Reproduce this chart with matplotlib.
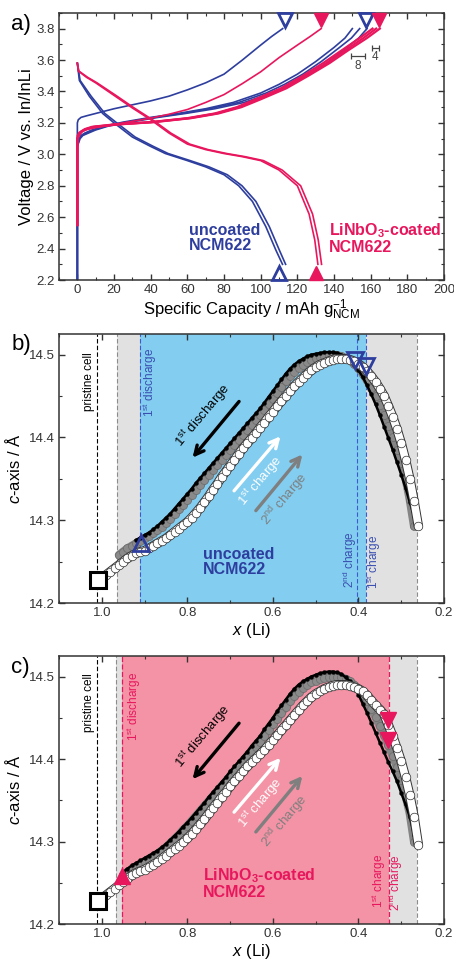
import numpy as np
import matplotlib
matplotlib.use("Agg")
import matplotlib.pyplot as plt
from matplotlib.ticker import MultipleLocator, FormatStrFormatter

plt.rcParams['font.family'] = ['Liberation Sans', 'DejaVu Sans']
plt.rcParams['mathtext.fontset'] = 'custom'
plt.rcParams['mathtext.rm'] = 'Liberation Sans'
plt.rcParams['mathtext.it'] = 'Liberation Sans:italic'
plt.rcParams['mathtext.bf'] = 'Liberation Sans:bold'

nan = np.nan

BLUE = '#2e3e9e'
PINK = '#e8175d'
SKY = '#82cdf0'
ROSE = '#f393a5'
LGRAY = '#e1e1e1'
AXC = '#333333'

# ---------------- a) voltage profiles ----------------
# uncoated, 1st charge
cap_u_ch1 = [0, 0, 0.5, 2, 5, 10, 20, 30, 40, 50, 60, 70, 80, 90, 100, 106, 112]
v_u_ch1 = [2.2, 3.20, 3.22, 3.235, 3.245, 3.26, 3.29, 3.315, 3.34, 3.37, 3.41, 3.455, 3.51, 3.60, 3.695, 3.75, 3.80]

# uncoated, later charges (shared voltage grid)
v_u_ch = [2.2, 3.05, 3.10, 3.12, 3.135, 3.155, 3.18, 3.205, 3.235, 3.26, 3.29, 3.33, 3.39, 3.445, 3.51, 3.59, 3.68, 3.74, 3.80]
cap_u_ch2 = [0, 0, 1, 2, 4, 8, 15, 25, 40, 55, 70, 85, 100, 110, 120, 130, 140, 146, 150]
cap_u_ch3 = [0, 0, 1, 2.5, 5, 9, 16, 27, 42, 57, 72, 88, 103, 113, 123, 133, 143, 149.5, 154]
cap_u_ch4 = [0, 0, 1.5, 3, 6, 10, 17, 29, 44, 59, 75, 91, 106, 116, 127, 137, 147, 153.5, 158]

# uncoated, discharges
v_u_dis = [3.58, 3.47, 3.37, 3.26, 3.20, 3.11, 3.05, 3.005, 2.96, 2.92, 2.87, 2.80, 2.70, 2.54, 2.39, 2.30]
cap_u_dis1 = [0, 1.1, 6.5, 13.8, 20, 30, 40, 48, 60, 70, 80, 88, 95.5, 102.8, 108.3, 111.9]
cap_u_dis2 = [0, 1.5, 7.5, 15.0, 21.5, 31.5, 41.5, 49.5, 61.5, 71.8, 81.8, 89.8, 97.4, 104.7, 110.2, 113.6]

# coated, 1st charge
cap_c_ch1 = [0, 0, 1, 3, 6, 10, 20, 30, 40, 50, 60, 70, 80, 90, 100, 110, 120, 127, 133]
v_c_ch1 = [2.55, 3.12, 3.14, 3.15, 3.16, 3.17, 3.19, 3.21, 3.23, 3.255, 3.285, 3.33, 3.38, 3.45, 3.525, 3.615, 3.695, 3.75, 3.80]

# coated, later charges
v_c_ch = [2.55, 3.10, 3.13, 3.145, 3.16, 3.175, 3.19, 3.205, 3.23, 3.26, 3.30, 3.35, 3.42, 3.50, 3.58, 3.66, 3.74, 3.80]
cap_c_ch2 = [0, 0, 1, 2, 4, 8, 20, 40, 60, 75, 87, 97, 111, 123, 134, 144, 154, 161]
cap_c_ch3 = [0, 0, 1.2, 2.3, 4.5, 9, 21, 41, 61, 76, 88, 98.5, 112.5, 124.5, 136, 146, 156, 163]
cap_c_ch4 = [0, 0, 1.4, 2.6, 5, 10, 22, 42, 62, 77, 89.5, 100, 114, 126, 137.5, 147.5, 158, 165]

# coated, discharges
v_c_dis = [3.58, 3.53, 3.49, 3.455, 3.375, 3.295, 3.22, 3.135, 3.065, 3.03, 3.005, 2.985, 2.96, 2.90, 2.80, 2.62, 2.455, 2.30]
cap_c_dis1 = [0, 0.5, 5, 10, 20, 30, 40, 50, 60, 70, 80, 90, 100, 110, 120, 126.4, 129.5, 131.2]
cap_c_dis2 = [0, 0.8, 5.6, 10.7, 21, 31, 41, 51, 61.3, 71.3, 81.5, 91.5, 101.5, 111.7, 121.8, 128.3, 131.4, 133.2]

# end-point markers
tri_bottom_cap = [110, 130]
tri_top_cap = [113, 133, 157.5, 164.5]

# scale bars (mAh/g)
bar_lengths = [8, 4]

# ---------------- b) and c) c-axis vs x(Li) ----------------
x_grid = [1.00, 0.99, 0.98, 0.97, 0.96, 0.95, 0.94, 0.93, 0.92, 0.91,
          0.90, 0.89, 0.88, 0.87, 0.86, 0.85, 0.84, 0.83, 0.82, 0.81,
          0.80, 0.79, 0.78, 0.77, 0.76, 0.75, 0.74, 0.73, 0.72, 0.71,
          0.70, 0.69, 0.68, 0.67, 0.66, 0.65, 0.64, 0.63, 0.62, 0.61,
          0.60, 0.59, 0.58, 0.57, 0.56, 0.55, 0.54, 0.53, 0.52, 0.51,
          0.50, 0.49, 0.48, 0.47, 0.46, 0.45, 0.44, 0.43, 0.42, 0.41,
          0.40, 0.39, 0.38, 0.37, 0.36, 0.35, 0.34, 0.33, 0.32, 0.31,
          0.30, 0.29, 0.28, 0.27, 0.26]

# uncoated
c_u_charge1 = [14.230, 14.234, 14.238, 14.242, 14.246, 14.250, 14.254, 14.257, 14.260, 14.262,
               14.263, 14.266, 14.269, 14.272, 14.275, 14.278, 14.282, 14.286, 14.290, 14.294,
               14.298, 14.303, 14.309, 14.315, 14.322, 14.329, 14.337, 14.344, 14.352, 14.359,
               14.366, 14.373, 14.380, 14.387, 14.393, 14.399, 14.405, 14.412, 14.418, 14.425,
               14.431, 14.438, 14.444, 14.450, 14.456, 14.462, 14.467, 14.472, 14.477, 14.481,
               14.485, 14.488, 14.490, 14.492, 14.494, 14.495, 14.495, 14.495, 14.494, 14.492,
               14.489, 14.485, 14.480, 14.474, 14.467, 14.459, 14.450, 14.438, 14.425, 14.410,
               14.393, 14.373, 14.350, 14.323, 14.293]
c_u_discharge1 = [nan, nan, nan, nan, nan, nan, nan, nan, 14.276, 14.279,
                  14.282, 14.285, 14.289, 14.293, 14.298, 14.303, 14.308, 14.314, 14.320, 14.326,
                  14.332, 14.338, 14.345, 14.351, 14.357, 14.363, 14.369, 14.375, 14.381, 14.387,
                  14.393, 14.399, 14.405, 14.411, 14.417, 14.423, 14.429, 14.435, 14.442, 14.449,
                  14.456, 14.463, 14.470, 14.477, 14.483, 14.488, 14.492, 14.495, 14.498, 14.500,
                  14.501, 14.502, 14.503, 14.503, 14.503, 14.502, 14.500, 14.497, 14.493, 14.488,
                  14.481, 14.473, 14.463, 14.452, 14.440, 14.427, 14.413, 14.399, 14.385, 14.370,
                  14.355, 14.339, 14.322, 14.305, nan]
c_u_charge2 = [nan, nan, nan, nan, 14.258, 14.262, 14.266, 14.269, 14.272, 14.275,
               14.278, 14.281, 14.284, 14.288, 14.292, 14.297, 14.302, 14.307, 14.313, 14.319,
               14.325, 14.331, 14.337, 14.343, 14.349, 14.355, 14.361, 14.367, 14.373, 14.379,
               14.385, 14.391, 14.397, 14.403, 14.409, 14.415, 14.421, 14.427, 14.433, 14.440,
               14.447, 14.454, 14.461, 14.468, 14.474, 14.479, 14.484, 14.488, 14.491, 14.494,
               14.496, 14.497, 14.498, 14.499, 14.499, 14.499, 14.498, 14.496, 14.493, 14.489,
               14.484, 14.477, 14.469, 14.460, 14.450, 14.439, 14.427, 14.414, 14.400, 14.385,
               14.369, 14.351, 14.325, 14.293, nan]

# LiNbO3-coated
c_c_charge1 = [14.231, 14.235, 14.239, 14.243, 14.247, 14.251, 14.255, 14.259, 14.262, 14.264,
               14.266, 14.269, 14.272, 14.275, 14.279, 14.283, 14.287, 14.291, 14.295, 14.299,
               14.304, 14.309, 14.315, 14.321, 14.327, 14.334, 14.341, 14.347, 14.354, 14.360,
               14.367, 14.373, 14.379, 14.385, 14.391, 14.396, 14.401, 14.406, 14.411, 14.417,
               14.423, 14.429, 14.435, 14.441, 14.447, 14.453, 14.459, 14.465, 14.470, 14.475,
               14.479, 14.482, 14.485, 14.487, 14.489, 14.490, 14.490, 14.490, 14.489, 14.487,
               14.485, 14.482, 14.477, 14.471, 14.465, 14.460, 14.454, 14.441, 14.428, 14.413,
               14.397, 14.378, 14.356, 14.330, 14.296]
c_c_discharge1 = [nan, nan, nan, nan, nan, 14.263, 14.267, 14.271, 14.274, 14.277,
                  14.280, 14.283, 14.286, 14.289, 14.293, 14.297, 14.302, 14.307, 14.312, 14.318,
                  14.323, 14.329, 14.335, 14.341, 14.347, 14.354, 14.360, 14.366, 14.372, 14.378,
                  14.385, 14.391, 14.397, 14.403, 14.409, 14.416, 14.422, 14.428, 14.436, 14.443,
                  14.450, 14.458, 14.465, 14.472, 14.479, 14.485, 14.490, 14.494, 14.497, 14.500,
                  14.502, 14.504, 14.505, 14.506, 14.506, 14.505, 14.503, 14.499, 14.494, 14.487,
                  14.478, 14.467, 14.456, 14.444, 14.432, 14.420, 14.408, 14.396, 14.385, 14.373,
                  14.359, 14.345, 14.330, 14.308, nan]
c_c_charge2 = [nan, nan, nan, nan, nan, 14.259, 14.263, 14.266, 14.269, 14.272,
               14.275, 14.278, 14.281, 14.285, 14.289, 14.293, 14.298, 14.303, 14.308, 14.314,
               14.319, 14.325, 14.331, 14.337, 14.343, 14.349, 14.355, 14.361, 14.367, 14.373,
               14.379, 14.385, 14.391, 14.397, 14.403, 14.409, 14.415, 14.421, 14.428, 14.435,
               14.442, 14.449, 14.456, 14.463, 14.470, 14.476, 14.481, 14.486, 14.490, 14.493,
               14.495, 14.497, 14.498, 14.499, 14.500, 14.500, 14.499, 14.497, 14.494, 14.490,
               14.485, 14.478, 14.470, 14.461, 14.451, 14.440, 14.429, 14.417, 14.404, 14.390,
               14.374, 14.356, 14.334, 14.300, nan]

pristine = (1.008, 14.228)
# dashed boundaries (x) and end-of-step markers
b_bounds = {'pristine': 1.012, 'left': 0.965, 'dis1': 0.91, 'ch2': 0.403, 'ch1': 0.383, 'right': 0.263}
c_bounds = {'pristine': 1.012, 'left': 0.966, 'dis1': 0.952, 'ch': 0.329, 'right': 0.263}
b_tri_up = (0.909, 14.272)
b_tri_down = [(0.407, 14.494), (0.383, 14.486)]
c_tri_up = (0.952, 14.258)
c_tri_down = [(0.331, 14.447), (0.331, 14.423)]

# ---------------- figure ----------------
fig = plt.figure(figsize=(4.54, 9.61), dpi=100)
ax_a = fig.add_axes([0.130, 0.7086, 0.848, 0.278])
ax_b = fig.add_axes([0.130, 0.3725, 0.848, 0.280])
ax_c = fig.add_axes([0.130, 0.0385, 0.848, 0.279])


def style_axes(ax):
    for s in ax.spines.values():
        s.set_linewidth(1.1)
        s.set_color(AXC)
    ax.tick_params(which='both', direction='in', top=True, right=True,
                   colors=AXC, labelsize=9.5, pad=3)
    ax.tick_params(which='major', length=4.5, width=1.0)
    ax.tick_params(which='minor', length=2.5, width=0.8)


# panel a
lw = 1.2
ax_a.plot(cap_u_ch1, v_u_ch1, color=BLUE, lw=lw)
for cap in (cap_u_ch2, cap_u_ch3, cap_u_ch4):
    ax_a.plot(cap, v_u_ch, color=BLUE, lw=lw)
for cap in (cap_u_dis1, cap_u_dis2):
    ax_a.plot(cap, v_u_dis, color=BLUE, lw=lw)
ax_a.plot(cap_c_ch1, v_c_ch1, color=PINK, lw=lw)
for cap in (cap_c_ch2, cap_c_ch3, cap_c_ch4):
    ax_a.plot(cap, v_c_ch, color=PINK, lw=lw + 0.4)
for cap in (cap_c_dis1, cap_c_dis2):
    ax_a.plot(cap, v_c_dis, color=PINK, lw=lw)

tri = dict(ms=10.5, clip_on=False, zorder=6)
ax_a.plot(tri_bottom_cap[0], 2.243, marker='^', mfc='none', mec=BLUE, mew=2, **tri)
ax_a.plot(tri_bottom_cap[1], 2.243, marker='^', color=PINK, **tri)
ax_a.plot(tri_top_cap[0], 3.856, marker='v', mfc='none', mec=BLUE, mew=2, **tri)
ax_a.plot(tri_top_cap[1], 3.856, marker='v', color=PINK, **tri)
ax_a.plot(tri_top_cap[2], 3.856, marker='v', mfc='none', mec=BLUE, mew=2, **tri)
ax_a.plot(tri_top_cap[3], 3.856, marker='v', color=PINK, **tri)

# scale bars
ax_a.errorbar(149 + bar_lengths[0] / 2, 3.624, xerr=bar_lengths[0] / 2, color='#444444',
              lw=0.9, capsize=2.5, capthick=0.9)
ax_a.text(149 + bar_lengths[0] / 2, 3.600, str(bar_lengths[0]), ha='center', va='top',
          fontsize=8.5, color='#444444')
ax_a.errorbar(160.6 + bar_lengths[1] / 2, 3.675, xerr=bar_lengths[1] / 2, color='#444444',
              lw=0.9, capsize=2.5, capthick=0.9)
ax_a.text(160.6 + bar_lengths[1] / 2, 3.655, str(bar_lengths[1]), ha='center', va='top',
          fontsize=8.5, color='#444444')

ax_a.text(61, 2.465, 'uncoated\nNCM622', color=BLUE, fontsize=11.5, fontweight='bold',
          ha='left', va='center', linespacing=1.0)
ax_a.text(137, 2.465, 'LiNbO$_{\\mathbf{3}}$-coated\nNCM622', color=PINK, fontsize=11.5,
          fontweight='bold', ha='left', va='center', linespacing=1.0)

ax_a.set_xlim(-10, 200)
ax_a.set_ylim(2.2, 3.9)
ax_a.xaxis.set_major_locator(MultipleLocator(20))
ax_a.xaxis.set_minor_locator(MultipleLocator(10))
ax_a.yaxis.set_major_locator(MultipleLocator(0.2))
ax_a.yaxis.set_minor_locator(MultipleLocator(0.1))
ax_a.yaxis.set_major_formatter(FormatStrFormatter('%.1f'))
style_axes(ax_a)
ax_a.set_xlabel('Specific Capacity / mAh g$_{\\mathrm{NCM}}^{-1}$', fontsize=12, labelpad=1)
ax_a.set_ylabel('Voltage / V vs. In/InLi', fontsize=12, labelpad=2)


def xrd_panel(ax, c_ch1, c_dis1, c_ch2):
    # 2nd charge: grey band
    ax.plot(x_grid, c_ch2, color='#858585', lw=6.0, solid_capstyle='round', zorder=3)
    ax.plot(x_grid, c_ch2, ls='none', marker='o', ms=5.8, mfc='#8a8a8a', mec='#6a6a6a',
            mew=0.5, zorder=3)
    # 1st discharge: black
    ax.plot(x_grid, c_dis1, color='black', lw=1.8, zorder=4)
    ax.plot(x_grid, c_dis1, ls='none', marker='o', ms=2.8, mfc='black', mec='black',
            mew=0.3, zorder=4)
    # 1st charge: open circles
    ax.plot(x_grid, c_ch1, color='#333333', lw=6.8, solid_capstyle='round', zorder=5)
    ax.plot(x_grid, c_ch1, color='white', lw=5.4, solid_capstyle='round', zorder=5)
    ax.plot(x_grid, c_ch1, ls='none', marker='o', ms=6.2, mfc='white', mec='#333333',
            mew=0.5, zorder=5)
    ax.plot(*pristine, marker='s', ms=11, mfc='white', mec='black', mew=2.2, zorder=7)


def arrows(ax):
    ax.annotate('', xy=(0.792, 14.373), xytext=(0.675, 14.446),
                arrowprops=dict(arrowstyle='->', color='black', lw=2.4, mutation_scale=16))
    ax.text(0.763, 14.427, '1$^{\\mathrm{st}}$ discharge', rotation=50, ha='center',
            va='center', fontsize=9.5, color='black', rotation_mode='anchor')
    ax.annotate('', xy=(0.578, 14.404), xytext=(0.695, 14.333),
                arrowprops=dict(arrowstyle='->', color='white', lw=2.4, mutation_scale=16))
    ax.text(0.630, 14.347, '1$^{\\mathrm{st}}$ charge', rotation=50, ha='center',
            va='center', fontsize=9.5, color='white', rotation_mode='anchor')
    ax.annotate('', xy=(0.527, 14.382), xytext=(0.644, 14.309),
                arrowprops=dict(arrowstyle='->', color='#7f7f7f', lw=2.4, mutation_scale=16))
    ax.text(0.572, 14.325, '2$^{\\mathrm{nd}}$ charge', rotation=50, ha='center',
            va='center', fontsize=9.5, color='#7f7f7f', rotation_mode='anchor')


def xrd_axes(ax):
    ax.set_xlim(1.1, 0.2)
    ax.set_ylim(14.2, 14.525)
    ax.xaxis.set_major_locator(MultipleLocator(0.2))
    ax.xaxis.set_minor_locator(MultipleLocator(0.1))
    ax.xaxis.set_major_formatter(FormatStrFormatter('%.1f'))
    ax.yaxis.set_major_locator(MultipleLocator(0.1))
    ax.yaxis.set_minor_locator(MultipleLocator(0.05))
    ax.yaxis.set_major_formatter(FormatStrFormatter('%.1f'))
    style_axes(ax)
    ax.set_xlabel('$x$ (Li)', fontsize=12, labelpad=1)
    ax.set_ylabel('$c$-axis / Å', fontsize=12, labelpad=4)


# panel b
bb = b_bounds
ax_b.axvspan(bb['left'], bb['dis1'], color=LGRAY, lw=0, zorder=0)
ax_b.axvspan(bb['dis1'], bb['ch1'], color=SKY, lw=0, zorder=0)
ax_b.axvspan(bb['ch1'], bb['right'], color=LGRAY, lw=0, zorder=0)
ax_b.axvline(bb['pristine'], color='black', ls=(0, (4, 2)), lw=0.8, zorder=1)
for k in ('left', 'right'):
    ax_b.axvline(bb[k], color='#8c8c8c', ls=(0, (4, 2)), lw=0.8, zorder=1)
for k in ('dis1', 'ch2', 'ch1'):
    ax_b.axvline(bb[k], color='#3a5ccc', ls=(0, (4, 2)), lw=0.8, zorder=1)
xrd_panel(ax_b, c_u_charge1, c_u_discharge1, c_u_charge2)
ax_b.plot(*b_tri_up, marker='^', ms=11, mfc='none', mec=BLUE, mew=2, zorder=8)
for p in b_tri_down:
    ax_b.plot(*p, marker='v', ms=11, mfc='none', mec=BLUE, mew=2, zorder=8)
arrows(ax_b)
ax_b.text(1.030, 14.468, 'pristine cell', rotation=90, ha='center', va='center', fontsize=8.5)
ax_b.text(0.887, 14.466, '1$^{\\mathrm{st}}$ discharge', rotation=90, ha='center',
          va='center', fontsize=8.5, color='#3a4fb0')
ax_b.text(0.420, 14.252, '2$^{\\mathrm{nd}}$ charge', rotation=90, ha='center',
          va='center', fontsize=8.5, color='#3a4fb0')
ax_b.text(0.364, 14.250, '1$^{\\mathrm{st}}$ charge', rotation=90, ha='center',
          va='center', fontsize=8.5, color='#3a4fb0')
ax_b.text(0.763, 14.250, 'uncoated\nNCM622', color=BLUE, fontsize=11.5, fontweight='bold',
          ha='left', va='center', linespacing=1.0)
xrd_axes(ax_b)

# panel c
cb = c_bounds
ax_c.axvspan(cb['left'], cb['dis1'], color=LGRAY, lw=0, zorder=0)
ax_c.axvspan(cb['dis1'], cb['ch'], color=ROSE, lw=0, zorder=0)
ax_c.axvspan(cb['ch'], cb['right'], color=LGRAY, lw=0, zorder=0)
ax_c.axvline(cb['pristine'], color='black', ls=(0, (4, 2)), lw=0.8, zorder=1)
for k in ('left', 'right'):
    ax_c.axvline(cb[k], color='#8c8c8c', ls=(0, (4, 2)), lw=0.8, zorder=1)
for k in ('dis1', 'ch'):
    ax_c.axvline(cb[k], color=PINK, ls=(0, (4, 2)), lw=0.9, zorder=1)
xrd_panel(ax_c, c_c_charge1, c_c_discharge1, c_c_charge2)
ax_c.plot(*c_tri_up, marker='^', ms=11, color=PINK, zorder=8)
for p in c_tri_down:
    ax_c.plot(*p, marker='v', ms=11, color=PINK, zorder=8)
arrows(ax_c)
ax_c.text(1.030, 14.468, 'pristine cell', rotation=90, ha='center', va='center', fontsize=8.5)
ax_c.text(0.925, 14.464, '1$^{\\mathrm{st}}$ discharge', rotation=90, ha='center',
          va='center', fontsize=8.5, color=PINK)
ax_c.text(0.352, 14.252, '1$^{\\mathrm{st}}$ charge', rotation=90, ha='center',
          va='center', fontsize=8.5, color=PINK)
ax_c.text(0.313, 14.250, '2$^{\\mathrm{nd}}$ charge', rotation=90, ha='center',
          va='center', fontsize=8.5, color=PINK)
ax_c.text(0.763, 14.250, 'LiNbO$_{\\mathbf{3}}$-coated\nNCM622', color=PINK, fontsize=11.5,
          fontweight='bold', ha='left', va='center', linespacing=1.0)
xrd_axes(ax_c)

# panel letters
fig.text(0.025, 0.975, 'a)', fontsize=16, va='center')
fig.text(0.025, 0.641, 'b)', fontsize=16, va='center')
fig.text(0.025, 0.305, 'c)', fontsize=16, va='center')

fig.savefig('out.png', dpi=100)
